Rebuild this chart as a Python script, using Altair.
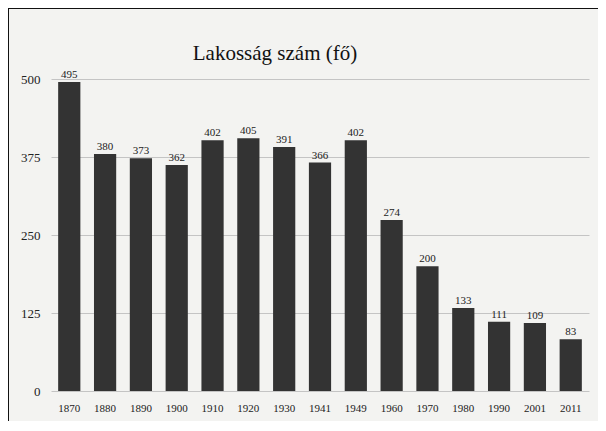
import altair as alt
import pandas as pd

years = ["1870", "1880", "1890", "1900", "1910", "1920", "1930", "1941",
         "1949", "1960", "1970", "1980", "1990", "2001", "2011"]
population = [495, 380, 373, 362, 402, 405, 391, 366, 402, 274, 200, 133, 111, 109, 83]
y_ticks = [0, 125, 250, 375, 500]
title_text = ["Lakosság szám (fő)"]

df = pd.DataFrame({"year": years, "pop": population})
tdf = pd.DataFrame({"t": title_text})

FONT = "Liberation Serif"

x = alt.X("year:N", sort=years, title=None,
          scale=alt.Scale(paddingInner=0.38, paddingOuter=0.2),
          axis=alt.Axis(labelAngle=0, labelFont=FONT, labelFontSize=11,
                        labelColor="#222222", ticks=False, domain=False,
                        labelPadding=11))
y = alt.Y("pop:Q", title=None,
          scale=alt.Scale(domain=[0, 500]),
          axis=alt.Axis(values=y_ticks, labelFont=FONT, labelFontSize=13,
                        labelColor="#222222", ticks=False, domain=False,
                        grid=True, gridColor="#c4c4c4", gridWidth=1,
                        labelPadding=11))

bars = alt.Chart(df).mark_bar(color="#333333").encode(x=x, y=y)
labels = alt.Chart(df).mark_text(dy=-7, font=FONT, fontSize=11,
                                 color="#222222").encode(x=x, y=y, text="pop:Q")

title = alt.Chart(tdf).mark_text(font=FONT, fontSize=21, color="#111111",
                                 baseline="middle", align="center", clip=False).encode(
    x=alt.value(224), y=alt.value(-25), text="t:N")

border_top = alt.Chart(df).mark_rule(color="#111111", strokeWidth=2, clip=False).encode(
    x=alt.value(-44), x2=alt.value(560), y=alt.value(-71))
border_left = alt.Chart(df).mark_rule(color="#111111", strokeWidth=2, clip=False).encode(
    x=alt.value(-43), y=alt.value(-72), y2=alt.value(345))

chart = (bars + labels + title + border_top + border_left).properties(
    width=538, height=312,
    background="#f3f3f1",
    padding={"left": 43, "top": 71, "right": 9, "bottom": 30},
    autosize=alt.AutoSizeParams(type="none"),
).configure_view(stroke=None)

chart.save("out.html", embed_options={"renderer": "svg", "actions": False})
